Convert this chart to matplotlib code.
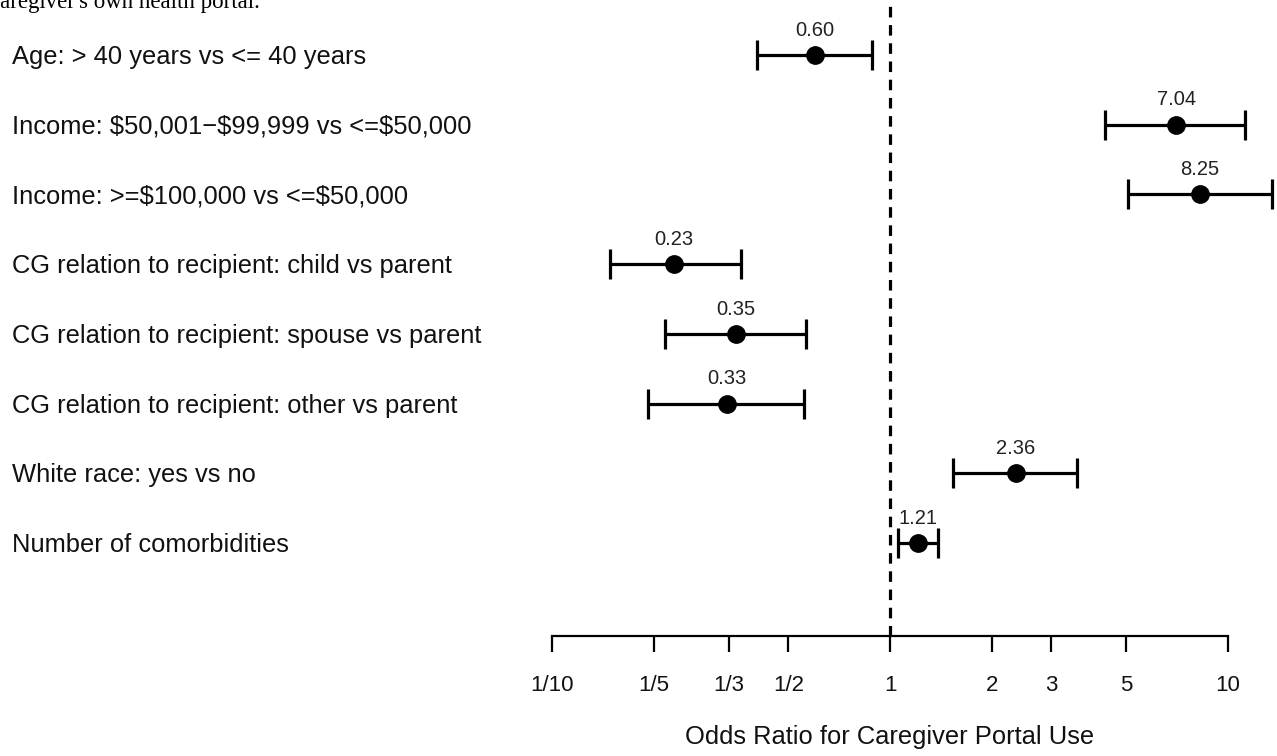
import matplotlib
matplotlib.use("Agg")
import matplotlib.pyplot as plt
import matplotlib.transforms as mtransforms
import numpy as np

# Odds ratios with 95% confidence intervals
labels = [
    "Age: > 40 years vs <= 40 years",
    "Income: \\$50,001\u2212\\$99,999 vs <=\\$50,000",
    "Income: >=\\$100,000 vs <=\\$50,000",
    "CG relation to recipient: child vs parent",
    "CG relation to recipient: spouse vs parent",
    "CG relation to recipient: other vs parent",
    "White race: yes vs no",
    "Number of comorbidities",
]
odds_ratio = [0.60, 7.04, 8.25, 0.23, 0.35, 0.33, 2.36, 1.21]
ci_lower = [0.404, 4.33, 5.06, 0.148, 0.216, 0.192, 1.54, 1.056]
ci_upper = [0.885, 11.2, 13.5, 0.362, 0.564, 0.557, 3.57, 1.39]

tick_values = [0.1, 0.2, 1 / 3, 0.5, 1, 2, 3, 5, 10]
tick_labels = ["1/10", "1/5", "1/3", "1/2", "1", "2", "3", "5", "10"]

plt.rcParams["font.family"] = ["Liberation Sans", "DejaVu Sans"]

W, H = 1277, 756
fig = plt.figure(figsize=(W / 100, H / 100), dpi=100)
ax = fig.add_axes([552 / W, 1 - 636 / H, (1228 - 552) / W, 636 / H])

n = len(labels)
ypos = np.arange(n)
ax.set_xscale("log")
ax.set_xlim(0.1, 10)
ax.set_ylim(n - 1 + 1.334, -0.789)

for s in ["top", "right", "left"]:
    ax.spines[s].set_visible(False)
ax.spines["bottom"].set_linewidth(1.6)
ax.set_yticks([])
ax.set_xticks(tick_values)
ax.set_xticklabels(tick_labels, fontsize=16, color="#111111")
ax.xaxis.set_minor_locator(matplotlib.ticker.NullLocator())
ax.tick_params(axis="x", direction="out", length=11.5, width=1.6, pad=16.5)
ax.set_xlabel("Odds Ratio for Caregiver Portal Use", fontsize=18.4,
              color="#111111", labelpad=21)

# Reference line at OR = 1
ax.axvline(1, color="black", lw=2.3, linestyle=(0, (3.3, 2.4)), zorder=1)

or_arr = np.array(odds_ratio)
xerr = np.vstack([or_arr - np.array(ci_lower), np.array(ci_upper) - or_arr])
ax.errorbar(odds_ratio, ypos, xerr=xerr, fmt="o", color="black", ms=12.5,
            lw=2.3, capsize=11, capthick=2.3, clip_on=False, zorder=3)

for xv, yv in zip(odds_ratio, ypos):
    ax.annotate(f"{xv:.2f}", (xv, yv), xytext=(0, 11), textcoords="offset points",
                ha="center", va="bottom", fontsize=14.5, color="#222222")

trans = mtransforms.blended_transform_factory(fig.transFigure, ax.transData)
shift = mtransforms.ScaledTranslation(0, -2 / 100, fig.dpi_scale_trans)
for lab, yv in zip(labels, ypos):
    ax.text(12 / W, yv, lab, transform=trans + shift, ha="left", va="center",
            fontsize=18.4, color="#111111")

fig.text(-10.5 / W, 1 - 8 / H, "caregiver's own health portal.",
         family=["Liberation Serif", "DejaVu Serif"], fontsize=16.5,
         ha="left", va="baseline")

fig.savefig("out.png", dpi=100)
